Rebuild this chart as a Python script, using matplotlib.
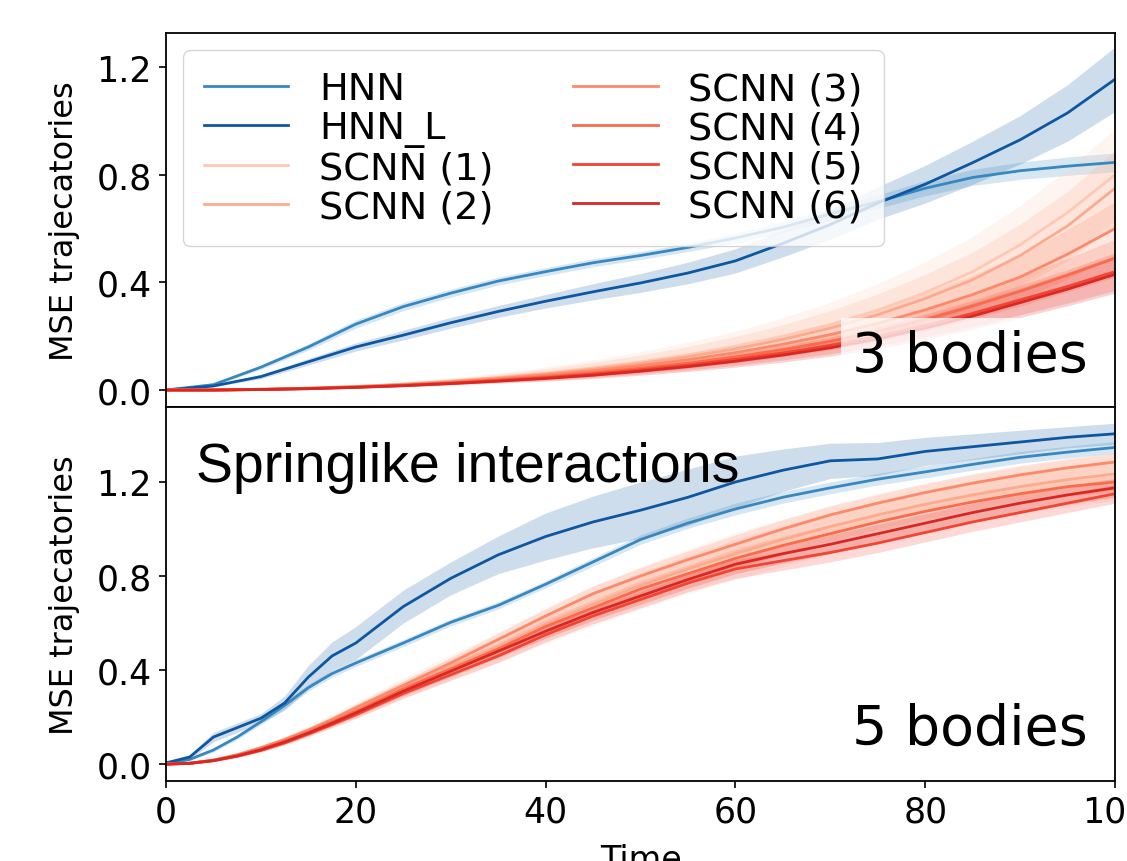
import matplotlib
matplotlib.use('Agg')
import matplotlib.pyplot as plt
import numpy as np

# time grids
t_top = np.arange(0, 101, 5)
t_bot = np.array([0, 2.5, 5, 7.5, 10, 12.5, 15, 17.5, 20, 25, 30, 35, 40, 45,
                  50, 55, 60, 65, 70, 75, 80, 85, 90, 95, 100])

labels = ['HNN', 'HNN_L', 'SCNN (1)', 'SCNN (2)', 'SCNN (3)', 'SCNN (4)', 'SCNN (5)', 'SCNN (6)']
colors = ['#3787c0', '#0d57a1', '#fdc9b4', '#fcaa8e', '#fc8a6a', '#fb6b4b', '#f14432', '#d92723']

# ---- 3 bodies (top) ----
hnn_top = [0, 0.02, 0.085, 0.16, 0.245, 0.31, 0.36, 0.405, 0.44, 0.473, 0.5,
           0.53, 0.565, 0.605, 0.655, 0.70, 0.75, 0.79, 0.815, 0.832, 0.846]
hnnl_top = [0, 0.015, 0.05, 0.105, 0.16, 0.204, 0.25, 0.292, 0.33, 0.365, 0.398,
            0.435, 0.48, 0.545, 0.615, 0.695, 0.765, 0.845, 0.93, 1.03, 1.155]
scnn1_top = [0, 0, 0.003, 0.007, 0.013, 0.022, 0.033, 0.047, 0.063, 0.082, 0.104,
             0.13, 0.161, 0.198, 0.243, 0.297, 0.362, 0.44, 0.54, 0.66, 0.80]
scnn2_top = [0, 0, 0.003, 0.007, 0.013, 0.021, 0.032, 0.045, 0.06, 0.078, 0.099,
             0.124, 0.153, 0.188, 0.23, 0.28, 0.34, 0.41, 0.50, 0.61, 0.75]
scnn3_top = [0, 0, 0.002, 0.006, 0.012, 0.02, 0.03, 0.042, 0.056, 0.072, 0.091,
             0.113, 0.139, 0.17, 0.206, 0.248, 0.298, 0.355, 0.42, 0.505, 0.60]
scnn4_top = [0, 0, 0.002, 0.006, 0.011, 0.018, 0.027, 0.038, 0.05, 0.064, 0.081,
             0.10, 0.123, 0.15, 0.181, 0.218, 0.262, 0.312, 0.367, 0.427, 0.49]
scnn5_top = [0, 0, 0.002, 0.005, 0.01, 0.017, 0.025, 0.035, 0.046, 0.059, 0.075,
             0.093, 0.114, 0.138, 0.166, 0.20, 0.24, 0.285, 0.335, 0.385, 0.44]
scnn6_top = [0, 0, 0.002, 0.005, 0.01, 0.016, 0.024, 0.033, 0.043, 0.055, 0.07,
             0.087, 0.107, 0.13, 0.157, 0.19, 0.23, 0.275, 0.325, 0.375, 0.43]

hnn_top_sd = [0, 0.003, 0.008, 0.012, 0.015, 0.015, 0.015, 0.015, 0.015, 0.015, 0.015,
              0.015, 0.018, 0.02, 0.022, 0.025, 0.028, 0.03, 0.032, 0.034, 0.035]
hnnl_top_sd = [0, 0.003, 0.008, 0.012, 0.015, 0.018, 0.02, 0.022, 0.025, 0.03, 0.035,
               0.04, 0.045, 0.05, 0.055, 0.06, 0.07, 0.08, 0.09, 0.105, 0.12]
scnn1_top_sd = [0, 0, 0.001, 0.003, 0.005, 0.008, 0.012, 0.017, 0.023, 0.03, 0.038,
                0.047, 0.058, 0.07, 0.083, 0.098, 0.115, 0.13, 0.145, 0.16, 0.17]
scnn2_top_sd = [0, 0, 0.001, 0.002, 0.004, 0.006, 0.01, 0.014, 0.019, 0.025, 0.031,
                0.038, 0.046, 0.055, 0.065, 0.077, 0.09, 0.103, 0.116, 0.128, 0.14]
scnn3_top_sd = [0, 0, 0.001, 0.002, 0.003, 0.005, 0.007, 0.01, 0.013, 0.017, 0.021,
                0.026, 0.032, 0.038, 0.045, 0.053, 0.062, 0.072, 0.082, 0.092, 0.1]
scnn4_top_sd = [0, 0, 0.001, 0.001, 0.002, 0.004, 0.005, 0.007, 0.01, 0.012, 0.015,
                0.018, 0.022, 0.026, 0.031, 0.036, 0.042, 0.048, 0.055, 0.062, 0.07]
scnn5_top_sd = scnn4_top_sd
scnn6_top_sd = scnn4_top_sd

# ---- 5 bodies (bottom) ----
hnn_bot = [0, 0.02, 0.06, 0.115, 0.18, 0.25, 0.325, 0.385, 0.43, 0.515, 0.603, 0.675,
           0.765, 0.86, 0.955, 1.025, 1.085, 1.135, 1.175, 1.212, 1.243, 1.275, 1.305,
           1.327, 1.347]
hnnl_bot = [0.005, 0.03, 0.115, 0.155, 0.195, 0.26, 0.37, 0.46, 0.515, 0.67, 0.79, 0.89,
            0.968, 1.03, 1.08, 1.135, 1.2, 1.25, 1.29, 1.298, 1.33, 1.35, 1.37, 1.39, 1.405]
scnn1_bot = [0, 0.0035, 0.016, 0.037, 0.065, 0.099, 0.138, 0.182, 0.228, 0.322, 0.41,
             0.495, 0.59, 0.672, 0.75, 0.82, 0.885, 0.94, 0.995, 1.045, 1.09, 1.13,
             1.165, 1.195, 1.22]
scnn2_bot = [0, 0.0035, 0.016, 0.038, 0.066, 0.1, 0.14, 0.185, 0.23, 0.325, 0.415,
             0.50, 0.595, 0.68, 0.76, 0.83, 0.895, 0.955, 1.01, 1.06, 1.105, 1.145,
             1.18, 1.21, 1.235]
scnn3_bot = [0, 0.004, 0.017, 0.04, 0.07, 0.105, 0.145, 0.19, 0.24, 0.335, 0.43,
             0.53, 0.63, 0.725, 0.80, 0.87, 0.935, 1.0, 1.06, 1.11, 1.155, 1.195,
             1.23, 1.26, 1.285]
scnn4_bot = [0, 0.0035, 0.016, 0.037, 0.064, 0.098, 0.137, 0.18, 0.225, 0.32, 0.405,
             0.49, 0.585, 0.665, 0.745, 0.81, 0.875, 0.93, 0.98, 1.03, 1.075, 1.115,
             1.15, 1.18, 1.20]
scnn5_bot = [0, 0.003, 0.014, 0.033, 0.058, 0.09, 0.128, 0.168, 0.21, 0.30, 0.38,
             0.46, 0.55, 0.63, 0.70, 0.77, 0.83, 0.865, 0.90, 0.94, 0.985, 1.03,
             1.07, 1.11, 1.15]
scnn6_bot = [0, 0.003, 0.015, 0.035, 0.061, 0.094, 0.132, 0.174, 0.218, 0.31, 0.395,
             0.48, 0.565, 0.645, 0.715, 0.785, 0.85, 0.895, 0.935, 0.98, 1.025, 1.07,
             1.11, 1.145, 1.175]

hnn_bot_sd = [0.003, 0.005, 0.008, 0.01, 0.012, 0.015, 0.015, 0.015, 0.015, 0.015, 0.015,
              0.015, 0.015, 0.018, 0.02, 0.022, 0.025, 0.025, 0.025, 0.025, 0.025, 0.025,
              0.025, 0.025, 0.025]
hnnl_bot_sd = [0.005, 0.01, 0.02, 0.02, 0.02, 0.03, 0.05, 0.06, 0.07, 0.07, 0.07, 0.08,
               0.1, 0.11, 0.12, 0.12, 0.11, 0.09, 0.075, 0.07, 0.06, 0.055, 0.05, 0.045, 0.045]
scnn1_bot_sd = [0, 0.002, 0.005, 0.01, 0.015, 0.02, 0.025, 0.03, 0.035, 0.045, 0.055,
                0.065, 0.075, 0.085, 0.09, 0.095, 0.1, 0.1, 0.1, 0.1, 0.1, 0.1, 0.1, 0.1, 0.1]
scnn2_bot_sd = [0, 0.001, 0.003, 0.006, 0.009, 0.012, 0.015, 0.018, 0.022, 0.028, 0.034,
                0.04, 0.045, 0.05, 0.055, 0.058, 0.06, 0.06, 0.06, 0.06, 0.06, 0.06, 0.06,
                0.06, 0.06]
scnn_rest_bot_sd = [0, 0.001, 0.002, 0.004, 0.006, 0.008, 0.01, 0.012, 0.015, 0.019, 0.023,
                    0.027, 0.03, 0.033, 0.035, 0.037, 0.04, 0.04, 0.04, 0.04, 0.04, 0.04,
                    0.04, 0.04, 0.04]

top_means = [hnn_top, hnnl_top, scnn1_top, scnn2_top, scnn3_top, scnn4_top, scnn5_top, scnn6_top]
top_sds = [hnn_top_sd, hnnl_top_sd, scnn1_top_sd, scnn2_top_sd, scnn3_top_sd,
           scnn4_top_sd, scnn5_top_sd, scnn6_top_sd]
bot_means = [hnn_bot, hnnl_bot, scnn1_bot, scnn2_bot, scnn3_bot, scnn4_bot, scnn5_bot, scnn6_bot]
bot_sds = [hnn_bot_sd, hnnl_bot_sd, scnn1_bot_sd, scnn2_bot_sd, scnn_rest_bot_sd,
           scnn_rest_bot_sd, scnn_rest_bot_sd, scnn_rest_bot_sd]


def draw_panel(ax, t, means, sds):
    for m, s, c, lab in zip(means, sds, colors, labels):
        m = np.array(m)
        s = np.array(s)
        ax.plot(t, m, color=c, lw=2.0, label=lab)
        ax.fill_between(t, m - s, m + s, color=c, alpha=0.2, lw=0)


fig = plt.figure(figsize=(11.27, 8.62), dpi=100)
ax1 = fig.add_axes([0.1473, 0.5267, 0.8421, 0.4339])
ax2 = fig.add_axes([0.1473, 0.0928, 0.8421, 0.4339], sharex=ax1)

draw_panel(ax1, t_top, top_means, top_sds)
draw_panel(ax2, t_bot, bot_means, bot_sds)

ax1.set_xlim(0, 100)
ax1.set_ylim(-0.063, 1.327)
ax2.set_ylim(-0.072, 1.519)
for ax in (ax1, ax2):
    ax.set_yticks([0.0, 0.4, 0.8, 1.2])
    ax.set_ylabel('MSE trajecatories', fontsize=23, labelpad=12)
    ax.tick_params(labelsize=25, length=5, width=1.2, pad=5)
    for sp in ax.spines.values():
        sp.set_linewidth(1.3)
ax1.tick_params(axis='x', bottom=False, labelbottom=False)
ax2.set_xticks([0, 20, 40, 60, 80, 100])
ax2.set_xlabel('Time', fontsize=24, labelpad=10)

ax1.legend(loc='upper left', ncol=2, fontsize=27.5, labelspacing=0.08,
           handlelength=2.2, handletextpad=0.8, columnspacing=2.1,
           borderaxespad=0.45, borderpad=0.55)

box = dict(facecolor='white', alpha=0.75, edgecolor='none', boxstyle='square,pad=0.2')
ax1.text(0.9715, 0.096, '3 bodies', transform=ax1.transAxes, ha='right', va='baseline',
         fontsize=40, bbox=box)
ax2.text(0.9715, 0.099, '5 bodies', transform=ax2.transAxes, ha='right', va='baseline',
         fontsize=40, bbox=box)
ax2.text(0.0316, 0.802, 'Springlike interactions', transform=ax2.transAxes, ha='left',
         va='baseline', fontsize=40, family='Liberation Sans')

fig.savefig('out.png', dpi=100)
